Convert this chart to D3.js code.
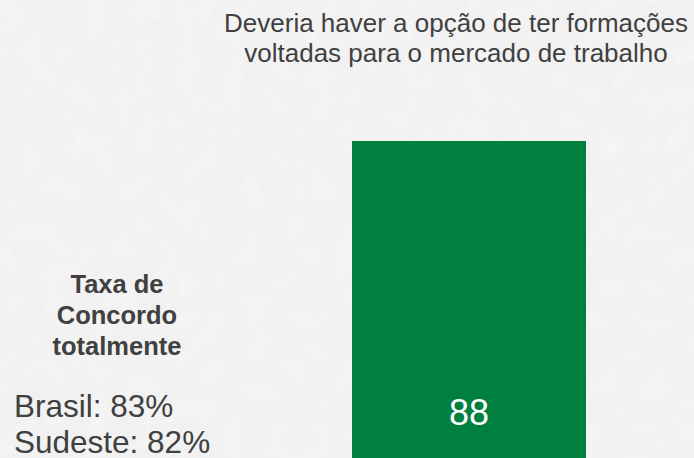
<!DOCTYPE html>
<html><head><meta charset="utf-8">
<script src="https://cdn.jsdelivr.net/npm/d3@7"></script>
<style>html,body{margin:0;padding:0;background:#ececec;}svg{display:block;}</style>
</head><body>
<svg id="c" width="694" height="458"></svg>
<script>
const categories = ["Deveria haver a opção de ter formações voltadas para o mercado de trabalho"];
const titleLines = ["Deveria haver a opção de ter formações", "voltadas para o mercado de trabalho"];
const values = [88];
const sideTitle = ["Taxa de", "Concordo", "totalmente"];
const sideStats = ["Brasil: 83%", "Sudeste: 82%"];

const W = 694, H = 458;
const svg = d3.select("#c");
const font = "'Liberation Sans', Arial, sans-serif";

// textured paper background
const defs = svg.append("defs");
const f = defs.append("filter").attr("id","paper").attr("x",0).attr("y",0).attr("width","100%").attr("height","100%");
f.append("feTurbulence").attr("type","fractalNoise").attr("baseFrequency","0.045").attr("numOctaves",3).attr("seed",4).attr("result","n");
f.append("feColorMatrix").attr("in","n").attr("type","matrix")
 .attr("values","0 0 0 0 0.93  0 0 0 0 0.93  0 0 0 0 0.93  0 0 0 -1.6 1.05");
svg.append("rect").attr("width",W).attr("height",H).attr("fill","#f1f1f1");
svg.append("rect").attr("width",W).attr("height",H).attr("filter","url(#paper)").attr("opacity",0.9);

// scales
const x = d3.scaleBand().domain(categories).range([352, 586]).padding(0);
const y = d3.scaleLinear().domain([0, 100]).range([470, 470 - (470 - 141) / 0.88]);

svg.selectAll("rect.bar").data(values).join("rect").attr("class","bar")
  .attr("x", (d,i) => x(categories[i]))
  .attr("width", x.bandwidth())
  .attr("y", d => y(d))
  .attr("height", d => y(0) - y(d))
  .attr("fill", "#00803f");

svg.selectAll("text.val").data(values).join("text").attr("class","val")
  .attr("x", (d,i) => x(categories[i]) + x.bandwidth()/2)
  .attr("y", 425)
  .attr("text-anchor","middle")
  .attr("font-family", font).attr("font-size", 36).attr("fill","#ffffff")
  .text(d => d);

// title
svg.selectAll("text.title").data(titleLines).join("text").attr("class","title")
  .attr("x", 456).attr("y", (d,i) => 32 + i*30)
  .attr("text-anchor","middle")
  .attr("font-family", font).attr("font-size", 26).attr("fill","#404040")
  .text(d => d);

// side labels
svg.selectAll("text.side").data(sideTitle).join("text").attr("class","side")
  .attr("x", 117).attr("y", (d,i) => 293 + i*31)
  .attr("text-anchor","middle")
  .attr("font-family", font).attr("font-size", 25.5).attr("font-weight","bold").attr("fill","#404040")
  .text(d => d);

svg.selectAll("text.stat").data(sideStats).join("text").attr("class","stat")
  .attr("x", 14).attr("y", (d,i) => 417 + i*35.5)
  .attr("font-family", font).attr("font-size", 31.5).attr("fill","#404040")
  .text(d => d);
</script>
</body></html>
